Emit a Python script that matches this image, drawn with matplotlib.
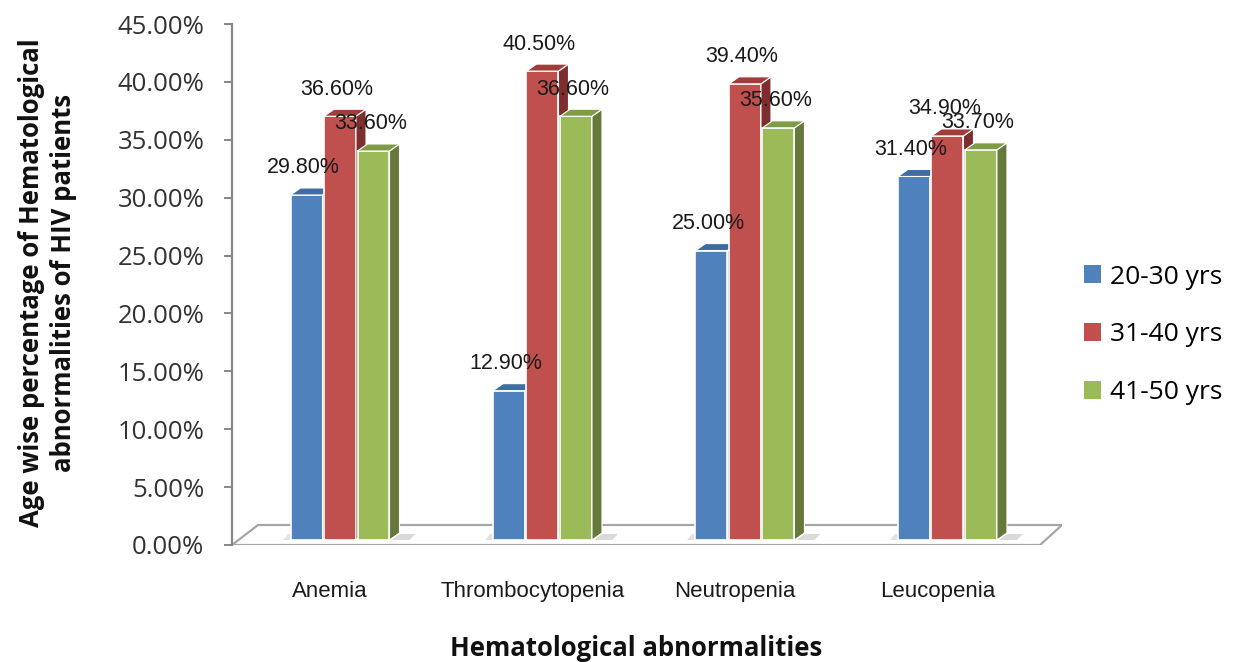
import matplotlib
matplotlib.use("Agg")
import matplotlib.pyplot as plt
from matplotlib.patches import Polygon, Patch
import numpy as np

categories = ["Anemia", "Thrombocytopenia", "Neutropenia", "Leucopenia"]
series_names = ["20-30 yrs", "31-40 yrs", "41-50 yrs"]
age_20_30 = [29.8, 12.9, 25.0, 31.4]
age_31_40 = [36.6, 40.5, 39.4, 34.9]
age_41_50 = [33.6, 36.6, 35.6, 33.7]
yticks = [0, 5, 10, 15, 20, 25, 30, 35, 40, 45]

series_values = [age_20_30, age_31_40, age_41_50]
front_colors = ["#4F81BD", "#C0504D", "#9BBB59"]
top_colors = ["#3E6CA3", "#9E3D3A", "#7E9C45"]
side_colors = ["#33578A", "#7E2E2C", "#66793A"]

W, H = 1243, 662
fig = plt.figure(figsize=(W / 100, H / 100), dpi=100)
ax = fig.add_axes([232 / W, 1 - 545 / H, (1062 - 232) / W, (545 - 24) / H])
ax.set_xlim(-0.484, 3.615)
ax.set_ylim(0, 45)

fig.canvas.draw()


def shift(x, y, dxp, dyp):
    """Data point shifted by pixels."""
    d = ax.transData.transform((x, y))
    return ax.transData.inverted().transform((d[0] + dxp, d[1] + dyp))


# floor
x0, x1 = ax.get_xlim()
p_fl = shift(x0, 0, 0, 0)
p_fr = shift(x0, 0, 808, 0)
p_br = shift(x0, 0, 830, 20)
p_bl = shift(x0, 0, 26, 20)
floor = Polygon([p_fl, p_fr, p_br, p_bl], closed=True, facecolor="white",
                edgecolor="#A6A6A6", linewidth=1.6, zorder=1)
ax.add_patch(floor)

# bars
base = shift(0, 0, 0, 5)[1]
group_shift = 10 / 202.5
step = 33.5 / 202.5
width = 0.158
DX, DY = 10, 7
xs = np.arange(len(categories))
for k, vals in enumerate(series_values):
    pos = xs + group_shift + (k - 1) * step
    bars = ax.bar(pos, vals, width=width, bottom=base, color=front_colors[k],
                  edgecolor="white", linewidth=1.2, zorder=3 + k * 0.3)
    for b, v in zip(bars, vals):
        xl = b.get_x()
        xr = xl + b.get_width()
        yt = b.get_y() + b.get_height()
        yb = b.get_y()
        side = Polygon([(xr, yb), shift(xr, yb, DX, DY), shift(xr, yt, DX, DY), (xr, yt)],
                       closed=True, facecolor=side_colors[k], edgecolor="white",
                       linewidth=0.8, zorder=3 + k * 0.3 + 0.1)
        top = Polygon([(xl, yt), shift(xl, yt, DX, DY), shift(xr, yt, DX, DY), (xr, yt)],
                      closed=True, facecolor=top_colors[k], edgecolor="white",
                      linewidth=0.8, zorder=3 + k * 0.3 + 0.15)
        ax.add_patch(side)
        ax.add_patch(top)
        if k == 2:
            sh = Polygon([shift(xr, yb, 2, 0), shift(xr, yb, 20, 0),
                          shift(xr, yb, 26, 6), shift(xr, yb, DX, 6)],
                         closed=True, facecolor="#DADADA", edgecolor="none", zorder=2)
            ax.add_patch(sh)
        if k == 0:
            sh = Polygon([shift(xl, yb, -8, 0), shift(xl, yb, 0, 0),
                          shift(xl, yb, 0, 6), shift(xl, yb, -3, 6)],
                         closed=True, facecolor="#E2E2E2", edgecolor="none", zorder=2)
            ax.add_patch(sh)
        ax.annotate(f"{v:.2f}%", (xl + b.get_width() / 2, yt), xytext=(-3, 27),
                    textcoords="offset pixels", ha="center", va="center",
                    fontsize=15.5, family="Liberation Sans", color="#1a1a1a", zorder=10)

# axes styling
for s in ["top", "right", "bottom"]:
    ax.spines[s].set_visible(False)
ax.spines["left"].set_color("#868686")
ax.spines["left"].set_linewidth(1.6)
ax.set_yticks(yticks)
ax.set_yticklabels([f"{t:.2f}%" for t in yticks], fontsize=18.5, family="Open Sans",
                   color="#333333")
ax.tick_params(axis="y", length=6, width=1.4, color="#868686", pad=14)
ax.set_xticks(xs)
ax.set_xticklabels(categories, fontsize=16, family="Liberation Sans", color="#1a1a1a")
ax.tick_params(axis="x", length=0, pad=26)
ax.set_facecolor("none")

# axis titles
fig.text(32 / W, 1 - 283 / H, "Age wise percentage of Hematological", rotation=90,
         ha="center", va="center", fontsize=18.5, fontweight="bold", family="Open Sans",
         color="#111111")
fig.text(64 / W, 1 - 283 / H, "abnormalities of HIV patients", rotation=90,
         ha="center", va="center", fontsize=18.5, fontweight="bold", family="Open Sans",
         color="#111111")
fig.text(636 / W, 1 - 648 / H, "Hematological abnormalities", ha="center", va="center",
         fontsize=18.5, fontweight="bold", family="Open Sans", color="#111111")

handles = [Patch(facecolor=c, edgecolor="none") for c in front_colors]
fig.legend(handles, series_names, loc="center left", bbox_to_anchor=(1084 / W, 1 - 335 / H),
           frameon=False, prop={"family": "Open Sans", "size": 19},
           handlelength=0.65, handleheight=0.65, handletextpad=0.35, labelspacing=1.25,
           borderpad=0, borderaxespad=0)

fig.savefig("out.png", dpi=100)
